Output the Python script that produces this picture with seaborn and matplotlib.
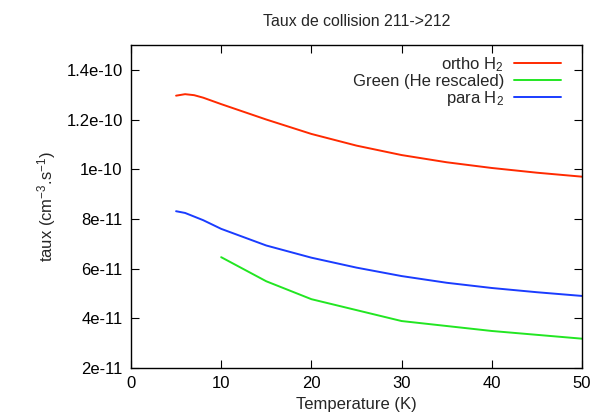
import pandas as pd
import matplotlib.pyplot as plt
import seaborn as sns

# Rates (temperature in K, rate in cm^-3.s^-1)
temp_ortho = [5, 6, 7, 8, 10, 15, 20, 25, 30, 35, 40, 45, 50]
rate_ortho = [1.296e-10, 1.302e-10, 1.298e-10, 1.288e-10, 1.262e-10, 1.200e-10,
              1.142e-10, 1.095e-10, 1.057e-10, 1.028e-10, 1.005e-10, 0.986e-10, 0.970e-10]

temp_green = [10, 15, 20, 30, 40, 50]
rate_green = [6.46e-11, 5.49e-11, 4.77e-11, 3.89e-11, 3.49e-11, 3.18e-11]

temp_para = [5, 6, 8, 10, 15, 20, 25, 30, 35, 40, 45, 50]
rate_para = [8.31e-11, 8.24e-11, 7.95e-11, 7.60e-11, 6.93e-11, 6.44e-11,
             6.04e-11, 5.70e-11, 5.43e-11, 5.22e-11, 5.05e-11, 4.90e-11]

labels = ['ortho H$_2$', 'Green (He rescaled)', 'para H$_2$']
colors = ['#ff2a00', '#22e622', '#1a3cff']

sns.set_theme(style="ticks")
plt.rcParams['font.family'] = ['Liberation Sans', 'DejaVu Sans']
plt.rcParams['mathtext.fontset'] = 'custom'
plt.rcParams['mathtext.rm'] = 'Liberation Sans'
plt.rcParams['mathtext.it'] = 'Liberation Sans'

df = pd.concat([
    pd.DataFrame({'T': temp_ortho, 'rate': rate_ortho, 'serie': labels[0]}),
    pd.DataFrame({'T': temp_green, 'rate': rate_green, 'serie': labels[1]}),
    pd.DataFrame({'T': temp_para, 'rate': rate_para, 'serie': labels[2]}),
])

fs = 12
fig = plt.figure(figsize=(5.94, 4.2), dpi=100)
ax = fig.add_axes([0.2205, 0.1238, 0.7593, 0.7691])
sns.lineplot(data=df, x='T', y='rate', hue='serie', hue_order=labels,
             palette=colors, linewidth=1.4, ax=ax, estimator=None, sort=True)

ax.set_xlim(0, 50)
ax.set_ylim(2e-11, 1.5e-10)
ax.set_xticks([0, 10, 20, 30, 40, 50])
yt = [2e-11, 4e-11, 6e-11, 8e-11, 1e-10, 1.2e-10, 1.4e-10]
ax.set_yticks(yt)
ax.set_yticklabels(['2e-11', '4e-11', '6e-11', '8e-11', '1e-10', '1.2e-10', '1.4e-10'])
ax.tick_params(direction='in', top=True, right=True, length=6, width=0.8,
               labelsize=fs, colors='black', pad=6)
for s in ax.spines.values():
    s.set_linewidth(1.0)
    s.set_color('black')

ax.set_title('Taux de collision 211->212', fontsize=11.4, pad=14)
ax.set_xlabel('Temperature (K)', fontsize=fs, labelpad=4)
ax.set_ylabel('taux (cm$^{-3}$.s$^{-1}$)', fontsize=fs, labelpad=6)

handles, lbls = ax.get_legend_handles_labels()
ax.legend(handles, lbls, loc='upper right', frameon=False, markerfirst=False,
          fontsize=fs, handlelength=2.8, handletextpad=0.6, labelspacing=0.0,
          borderaxespad=0.2, borderpad=0.4, bbox_to_anchor=(0.975, 1.0))

plt.savefig('out.png', dpi=100)
plt.close()
